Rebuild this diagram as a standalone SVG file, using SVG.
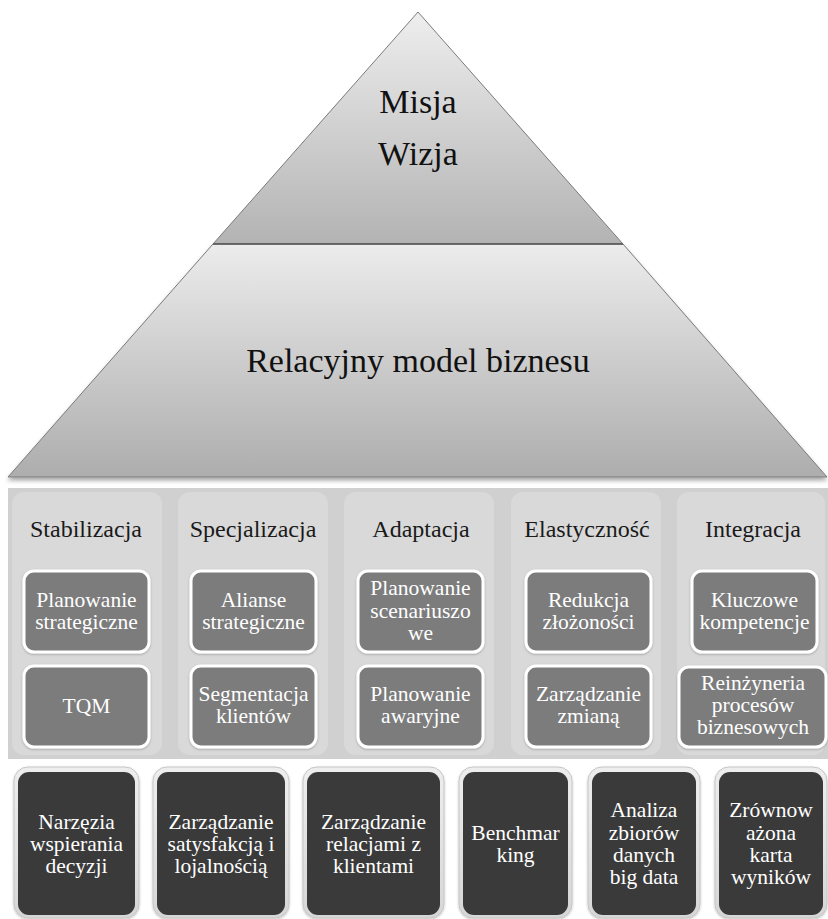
<svg xmlns="http://www.w3.org/2000/svg" width="828" height="919" viewBox="0 0 828 919">
  <defs>
    <linearGradient id="gTop" x1="0" y1="0" x2="0" y2="1">
      <stop offset="0" stop-color="#eeeeee"/>
      <stop offset="1" stop-color="#b3b3b3"/>
    </linearGradient>
    <linearGradient id="gLow" x1="0" y1="0" x2="0" y2="1">
      <stop offset="0" stop-color="#ececec"/>
      <stop offset="1" stop-color="#adadad"/>
    </linearGradient>
    <linearGradient id="gFrame" x1="0" y1="0" x2="0" y2="1">
      <stop offset="0" stop-color="#eeeeee"/>
      <stop offset="1" stop-color="#d6d6d6"/>
    </linearGradient>
    <filter id="shadow" x="-5%" y="-5%" width="110%" height="115%">
      <feDropShadow dx="0" dy="3" stdDeviation="2" flood-color="#000" flood-opacity="0.35"/>
    </filter>
    <filter id="soft" x="-10%" y="-10%" width="120%" height="120%">
      <feDropShadow dx="0" dy="1" stdDeviation="1.2" flood-color="#000" flood-opacity="0.25"/>
    </filter>
  </defs>
  <style>
    text { font-family: "Liberation Serif", Tinos, "Times New Roman", Times, "Noto Serif", "DejaVu Serif", FreeSerif, serif; text-anchor: middle; }
    .big { font-size: 34px; fill: #111; }
    .head { font-size: 24px; fill: #1a1a1a; }
    .lbl { font-size: 21.5px; fill: #ffffff; }
    .panel { fill: #d9d9d9; }
    .box { fill: #7c7c7c; stroke: #ffffff; stroke-width: 3; filter: url(#soft); }
    .frame { fill: url(#gFrame); stroke: #c6c6c6; stroke-width: 1; filter: url(#soft); }
    .dark { fill: #3a3a3a; }
  </style>

  <rect width="828" height="919" fill="#ffffff"/>

  <!-- pyramid -->
  <g id="pyramid-top">
    <polygon points="418,12 213,244 623,244" fill="url(#gTop)" stroke="#7a7a7a" stroke-width="1"/>
    <text class="big" x="418" y="113">Misja</text>
    <text class="big" x="418" y="165">Wizja</text>
  </g>
  <g id="pyramid-base">
    <polygon points="213,244 623,244 827,477 8,477" fill="url(#gLow)" stroke="#7a7a7a" stroke-width="1" filter="url(#shadow)"/>
    <line x1="213" y1="244" x2="623" y2="244" stroke="#555" stroke-width="1.5"/>
    <text class="big" x="418" y="372">Relacyjny model biznesu</text>
  </g>

  <!-- band of strategies -->
  <rect x="8" y="488" width="820" height="271" fill="#d0d0d0"/>
  <g id="panels">
    <rect class="panel" x="12" y="492" width="150" height="263" rx="12"/>
    <rect class="panel" x="178" y="492" width="150" height="263" rx="12"/>
    <rect class="panel" x="344" y="492" width="150" height="263" rx="12"/>
    <rect class="panel" x="511" y="492" width="150" height="263" rx="12"/>
    <rect class="panel" x="677" y="492" width="148" height="263" rx="12"/>
  </g>

  <g id="col-stabilizacja">
    <text class="head" x="86" y="537">Stabilizacja</text>
    <g id="planowanie-strategiczne">
      <rect class="box" x="24" y="571" width="125" height="81" rx="10"/>
      <text class="lbl" x="86.5" y="607">Planowanie</text>
      <text class="lbl" x="86.5" y="629">strategiczne</text>
    </g>
    <g id="tqm">
      <rect class="box" x="24" y="666" width="125" height="81" rx="10"/>
      <text class="lbl" x="86.5" y="713">TQM</text>
    </g>
  </g>

  <g id="col-specjalizacja">
    <text class="head" x="253" y="537">Specjalizacja</text>
    <g id="alianse">
      <rect class="box" x="191" y="571" width="125" height="81" rx="10"/>
      <text class="lbl" x="253.5" y="607">Alianse</text>
      <text class="lbl" x="253.5" y="629">strategiczne</text>
    </g>
    <g id="segmentacja">
      <rect class="box" x="191" y="666" width="125" height="81" rx="10"/>
      <text class="lbl" x="253.5" y="701">Segmentacja</text>
      <text class="lbl" x="253.5" y="723">klientów</text>
    </g>
  </g>

  <g id="col-adaptacja">
    <text class="head" x="421" y="537">Adaptacja</text>
    <g id="planowanie-scenariuszowe">
      <rect class="box" x="358" y="571" width="125" height="81" rx="10"/>
      <text class="lbl" x="420.5" y="595">Planowanie</text>
      <text class="lbl" x="420.5" y="617.5">scenariuszo</text>
      <text class="lbl" x="420.5" y="640">we</text>
    </g>
    <g id="planowanie-awaryjne">
      <rect class="box" x="358" y="666" width="125" height="81" rx="10"/>
      <text class="lbl" x="420.5" y="701">Planowanie</text>
      <text class="lbl" x="420.5" y="723">awaryjne</text>
    </g>
  </g>

  <g id="col-elastycznosc">
    <text class="head" x="587" y="537">Elastyczność</text>
    <g id="redukcja">
      <rect class="box" x="526" y="571" width="125" height="81" rx="10"/>
      <text class="lbl" x="588.5" y="607">Redukcja</text>
      <text class="lbl" x="588.5" y="629">złożoności</text>
    </g>
    <g id="zarzadzanie-zmiana">
      <rect class="box" x="526" y="666" width="125" height="81" rx="10"/>
      <text class="lbl" x="588.5" y="701">Zarządzanie</text>
      <text class="lbl" x="588.5" y="723">zmianą</text>
    </g>
  </g>

  <g id="col-integracja">
    <text class="head" x="753" y="537">Integracja</text>
    <g id="kluczowe">
      <rect class="box" x="692" y="571" width="125" height="81" rx="10"/>
      <text class="lbl" x="754.5" y="607">Kluczowe</text>
      <text class="lbl" x="754.5" y="629">kompetencje</text>
    </g>
    <g id="reinzyneria">
      <rect class="box" x="679" y="667" width="147" height="80" rx="10"/>
      <text class="lbl" x="753" y="690">Reinżyneria</text>
      <text class="lbl" x="753" y="712">procesów</text>
      <text class="lbl" x="753" y="734">biznesowych</text>
    </g>
  </g>

  <!-- tools -->
  <g id="narzedzia">
    <rect class="frame" x="14" y="767" width="125" height="151" rx="14"/>
    <rect class="dark" x="18" y="772" width="117" height="143" rx="11"/>
    <text class="lbl" x="76.5" y="829">Narzęzia</text>
    <text class="lbl" x="76.5" y="851">wspierania</text>
    <text class="lbl" x="76.5" y="873">decyzji</text>
  </g>
  <g id="satysfakcja">
    <rect class="frame" x="153" y="767" width="136" height="151" rx="14"/>
    <rect class="dark" x="157" y="772" width="128" height="143" rx="11"/>
    <text class="lbl" x="221" y="829">Zarządzanie</text>
    <text class="lbl" x="221" y="851">satysfakcją i</text>
    <text class="lbl" x="221" y="873">lojalnością</text>
  </g>
  <g id="relacje">
    <rect class="frame" x="303" y="767" width="141" height="151" rx="14"/>
    <rect class="dark" x="307" y="772" width="133" height="143" rx="11"/>
    <text class="lbl" x="373.5" y="829">Zarządzanie</text>
    <text class="lbl" x="373.5" y="851">relacjami z</text>
    <text class="lbl" x="373.5" y="873">klientami</text>
  </g>
  <g id="benchmarking">
    <rect class="frame" x="459" y="767" width="113" height="151" rx="14"/>
    <rect class="dark" x="463" y="772" width="105" height="143" rx="11"/>
    <text class="lbl" x="515.5" y="840">Benchmar</text>
    <text class="lbl" x="515.5" y="862">king</text>
  </g>
  <g id="big-data">
    <rect class="frame" x="588" y="767" width="112" height="151" rx="14"/>
    <rect class="dark" x="592" y="772" width="104" height="143" rx="11"/>
    <text class="lbl" x="644" y="817">Analiza</text>
    <text class="lbl" x="644" y="839.5">zbiorów</text>
    <text class="lbl" x="644" y="862">danych</text>
    <text class="lbl" x="644" y="884">big data</text>
  </g>
  <g id="karta-wynikow">
    <rect class="frame" x="715" y="767" width="112" height="151" rx="14"/>
    <rect class="dark" x="719" y="772" width="104" height="143" rx="11"/>
    <text class="lbl" x="771" y="817">Zrównow</text>
    <text class="lbl" x="771" y="839.5">ażona</text>
    <text class="lbl" x="771" y="862">karta</text>
    <text class="lbl" x="771" y="884">wyników</text>
  </g>
</svg>
